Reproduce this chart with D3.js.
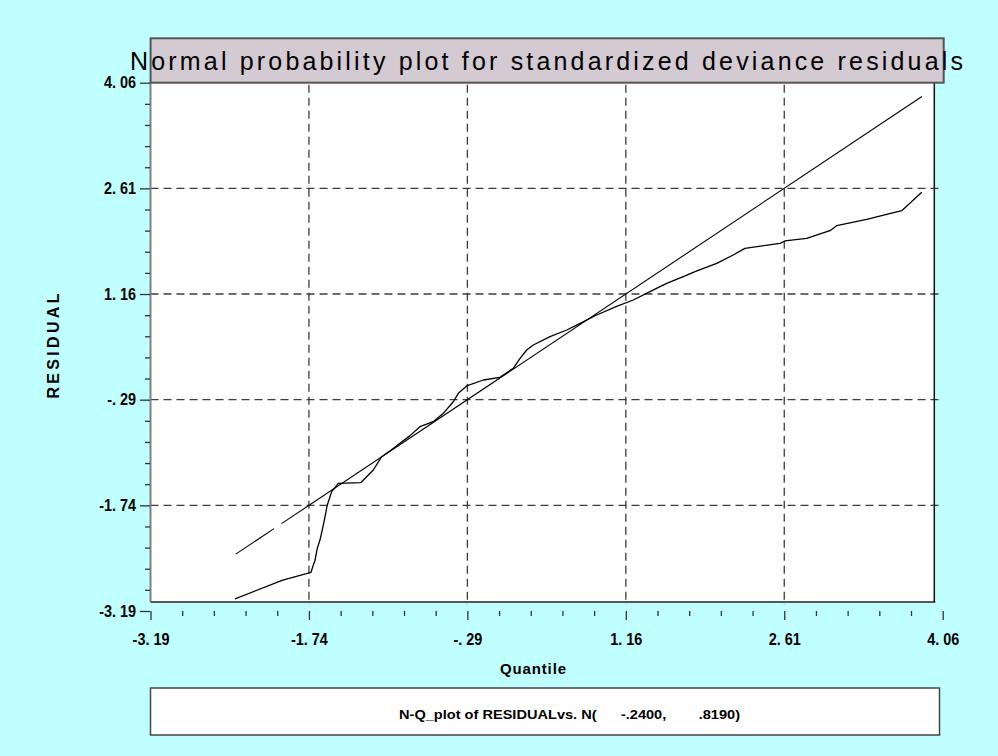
<!DOCTYPE html>
<html>
<head>
<meta charset="utf-8">
<script src="https://cdn.jsdelivr.net/npm/d3@7"></script>
<style>
  html, body { margin: 0; padding: 0; background: #c0ffff; }
  svg { display: block; }
  text { font-family: "Liberation Sans", Arial, sans-serif; }
</style>
</head>
<body>
<svg id="chart" width="998" height="756"></svg>
<script>
// ---- data ----
const titleText = "Normal probability plot for standardized deviance residuals";
const xAxisTitle = "Quantile";
const yAxisTitle = "RESIDUAL";
const legendText = "N-Q_plot of RESIDUALvs. N(      -.2400,        .8190)";

const tickValues = [-3.19, -1.74, -0.29, 1.16, 2.61, 4.06];
const xTickLabels = ["-3. 19", "-1. 74", "-. 29", "1. 16", "2. 61", "4. 06"];
const yTickLabels = ["-3. 19", "-1. 74", "-. 29", "1. 16", "2. 61", "4. 06"];
const gridValues = [-1.74, -0.29, 1.16, 2.61];

// normal reference line (y = x)
const refQuantile = [-2.41, 3.87];
const refResidual = [-2.41, 3.87];

// sorted standardized deviance residuals vs. normal quantiles
const quantile = [-2.417, -1.98, -1.721, -1.70, -1.685, -1.664, -1.639, -1.608, -1.572, -1.532,
  -1.471, -1.266, -1.151, -1.074, -0.99, -0.907, -0.82, -0.724, -0.602, -0.510,
  -0.419, -0.373, -0.296, -0.144, 0.008, 0.13, 0.192, 0.253, 0.313, 0.466,
  0.619, 0.741, 0.893, 1.076, 1.228, 1.381, 1.534, 1.686, 1.793, 1.992,
  2.143, 2.25, 2.571, 2.617, 2.815, 3.028, 3.09, 3.364, 3.685, 3.868];
const residual = [-3.025, -2.765, -2.659, -2.559, -2.50, -2.33, -2.216, -2.01, -1.735, -1.553,
  -1.438, -1.429, -1.255, -1.072, -0.985, -0.889, -0.79, -0.661, -0.592, -0.477,
  -0.318, -0.203, -0.102, -0.020, 0.017, 0.141, 0.278, 0.392, 0.46, 0.575,
  0.666, 0.758, 0.872, 0.99, 1.078, 1.192, 1.307, 1.398, 1.466, 1.581,
  1.695, 1.787, 1.856, 1.888, 1.924, 2.029, 2.098, 2.185, 2.304, 2.556];

// ---- layout ----
const svg = d3.select("#chart");
const x = d3.scaleLinear().domain([-3.19, 4.06]).range([150.5, 942.7]);
const y = d3.scaleLinear().domain([-3.19, 4.06]).range([611, 82.7]);
const frame = { left: 150.5, right: 934.3, top: 82.7, bottom: 602 };
const minorStep = 0.29;
const minorValues = d3.range(0, 26).map(i => -3.19 + i * minorStep)
  .filter(v => !tickValues.some(t => Math.abs(t - v) < 1e-6));

// condense glyphs horizontally (narrow bold face look)
function condense(sel, factor) {
  sel.each(function () {
    const w = this.getComputedTextLength();
    d3.select(this).attr("textLength", w * factor).attr("lengthAdjust", "spacingAndGlyphs");
  });
}

svg.append("rect").attr("width", 998).attr("height", 756).attr("fill", "#c0ffff");

// plot frame
svg.append("rect")
  .attr("x", frame.left).attr("y", frame.top)
  .attr("width", frame.right - frame.left).attr("height", frame.bottom - frame.top)
  .attr("fill", "#ffffff");

// grid
const grid = svg.append("g").attr("stroke", "#3c3c3c").attr("stroke-width", 1.3)
  .attr("stroke-dasharray", "8,5").attr("fill", "none");
grid.selectAll("line.v").data(gridValues).join("line").attr("class", "v")
  .attr("x1", d => x(d)).attr("x2", d => x(d))
  .attr("y1", frame.top + 2).attr("y2", 605);
grid.selectAll("line.h").data(gridValues).join("line").attr("class", "h")
  .attr("x1", frame.left).attr("x2", x(4.06))
  .attr("y1", d => y(d)).attr("y2", d => y(d));

// reference line
const line = d3.line().x(d => x(d[0])).y(d => y(d[1]));
svg.append("path")
  .attr("d", line(d3.zip(refQuantile, refResidual)))
  .attr("fill", "none").attr("stroke", "#000").attr("stroke-width", 1.1)
  .attr("stroke-dasharray", "46 9 3000");

// residual curve
svg.append("path")
  .attr("d", line(d3.zip(quantile, residual)))
  .attr("fill", "none").attr("stroke", "#000").attr("stroke-width", 1.3)
  .attr("stroke-linejoin", "round");

// frame borders
svg.append("line").attr("x1", frame.left).attr("x2", frame.left)
  .attr("y1", frame.top).attr("y2", frame.bottom)
  .attr("stroke", "#808080").attr("stroke-width", 2);
svg.append("line").attr("x1", frame.left).attr("x2", frame.right + 1)
  .attr("y1", frame.bottom).attr("y2", frame.bottom)
  .attr("stroke", "#555").attr("stroke-width", 2);
svg.append("line").attr("x1", frame.right).attr("x2", frame.right)
  .attr("y1", frame.top).attr("y2", frame.bottom)
  .attr("stroke", "#111").attr("stroke-width", 1.5);

// title box
svg.append("rect")
  .attr("x", 150.6).attr("y", 38.3).attr("width", 943.7 - 150.6).attr("height", 82.7 - 38.3)
  .attr("fill", "#d4cad2").attr("stroke", "#555").attr("stroke-width", 2);
svg.append("text")
  .attr("x", 130).attr("y", 70)
  .attr("font-size", 25).attr("fill", "#000")
  .attr("font-family", "'Liberation Sans Narrow', 'Liberation Sans', Arial, sans-serif")
  .attr("textLength", 833).attr("lengthAdjust", "spacing")
  .text(titleText);

// y axis
const yAxisG = svg.append("g").attr("transform", `translate(${frame.left - 0.5},0)`);
yAxisG.call(d3.axisLeft(y).tickValues(tickValues).tickSize(10).tickPadding(4)
  .tickFormat((d, i) => yTickLabels[i]));
yAxisG.select(".domain").remove();
yAxisG.selectAll(".tick line").attr("stroke", "#333").attr("stroke-width", 1.3);
yAxisG.selectAll(".tick text").attr("font-size", 16).attr("font-weight", "bold")
  .attr("fill", "#000").attr("font-family", "'Liberation Sans', Arial, sans-serif")
  .call(condense, 0.9);
const yMinorG = svg.append("g").attr("transform", `translate(${frame.left - 0.5},0)`);
yMinorG.call(d3.axisLeft(y).tickValues(minorValues).tickSize(5).tickFormat(""));
yMinorG.select(".domain").remove();
yMinorG.selectAll(".tick line").attr("stroke", "#333").attr("stroke-width", 1.3);

// x axis
const xAxisG = svg.append("g").attr("transform", `translate(0,${y(-3.19)})`);
xAxisG.call(d3.axisBottom(x).tickValues(tickValues).tickSize(9)
  .tickFormat((d, i) => xTickLabels[i]));
xAxisG.select(".domain").remove();
xAxisG.selectAll(".tick line").attr("stroke", "#333").attr("stroke-width", 1.3);
xAxisG.selectAll(".tick text").attr("y", 23).attr("font-size", 16).attr("font-weight", "bold")
  .attr("fill", "#000").attr("font-family", "'Liberation Sans', Arial, sans-serif")
  .call(condense, 0.9);
const xMinorG = svg.append("g").attr("transform", `translate(0,${y(-3.19)})`);
xMinorG.call(d3.axisBottom(x).tickValues(minorValues).tickSize(5).tickFormat(""));
xMinorG.select(".domain").remove();
xMinorG.selectAll(".tick line").attr("stroke", "#333").attr("stroke-width", 1.3);

// axis titles
svg.append("text")
  .attr("x", 533).attr("y", 674).attr("text-anchor", "middle")
  .attr("font-size", 15).attr("font-weight", "bold")
  .attr("textLength", 66).attr("lengthAdjust", "spacing")
  .text(xAxisTitle);
svg.append("text")
  .attr("transform", "translate(59,346) rotate(-90)")
  .attr("text-anchor", "middle")
  .attr("font-size", 16).attr("font-weight", "bold")
  .attr("textLength", 105).attr("lengthAdjust", "spacing")
  .text(yAxisTitle);

// legend box
svg.append("rect")
  .attr("x", 150.5).attr("y", 688).attr("width", 789).attr("height", 47)
  .attr("fill", "#fff").attr("stroke", "#444").attr("stroke-width", 1.5);
svg.append("text")
  .attr("x", 399).attr("y", 719)
  .attr("font-size", 13).attr("font-weight", "bold")
  .attr("xml:space", "preserve").style("white-space", "pre")
  .attr("textLength", 341).attr("lengthAdjust", "spacingAndGlyphs")
  .text(legendText);
</script>
</body>
</html>
